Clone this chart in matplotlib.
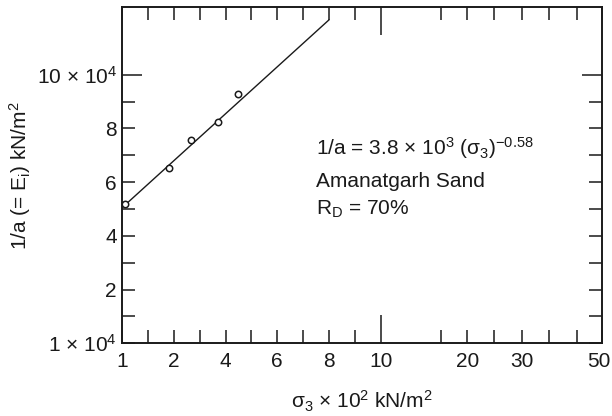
import numpy as np
import matplotlib
matplotlib.use('Agg')
import matplotlib.pyplot as plt
from matplotlib.ticker import FixedLocator, FixedFormatter
from matplotlib.transforms import ScaledTranslation

plt.rcParams['font.family'] = ['Liberation Sans', 'DejaVu Sans']
plt.rcParams['mathtext.fontset'] = 'custom'
plt.rcParams['mathtext.rm'] = 'Liberation Sans'
plt.rcParams['mathtext.it'] = 'Liberation Sans:italic'
plt.rcParams['mathtext.bf'] = 'Liberation Sans:bold'

# measured data (sigma3 in 10^2 kN/m2, 1/a in 10^4 kN/m2)
sigma3 = [1.05, 1.91, 2.65, 3.72, 4.48]
inv_a = [5.17, 6.52, 7.57, 8.23, 9.27]

# fitted line end points
fit_x = [1.02, 8.0]
fit_y = [5.09, 12.04]

# the hand drawn axes of the original: value -> position along the axis
x_anchor_vals = [1, 2, 10, 20, 30, 50]
x_anchor_pos = [0, 2, 10, 13.36, 15.48, 18.58]
y_anchor_vals = [1, 2, 10, 20]
y_anchor_pos = [0, 2, 10, 20]

x_tick_pos = [0, 1, 2, 3, 4, 5, 6, 7, 8, 9, 10,
              12.32, 13.36, 14.4, 15.48, 16.53, 17.59, 18.58]
x_tick_labels = {1: '1', 2: '2', 4: '4', 6: '6', 8: '8', 10: '10',
                 20: '20', 30: '30', 50: '50'}
y_tick_pos = [0, 1, 2, 3, 4, 5, 6, 7, 8, 9, 10]
y_tick_labels = {1: r'1 × 10$^4$', 2: '2', 4: '4', 6: '6', 8: '8',
                 10: r'10 × 10$^4$'}

FS = 15
INK = '#1a1a1a'


def x_fwd(v):
    return np.interp(v, x_anchor_vals, x_anchor_pos)


def x_inv(p):
    return np.interp(p, x_anchor_pos, x_anchor_vals)


def y_fwd(v):
    return np.interp(v, y_anchor_vals, y_anchor_pos)


def y_inv(p):
    return np.interp(p, y_anchor_pos, y_anchor_vals)


def pick(labels, vals):
    out = []
    for v in vals:
        key = int(round(v)) if abs(v - round(v)) < 1e-3 else None
        out.append(labels.get(key, ''))
    return out


fig = plt.figure(figsize=(6.12, 4.16), dpi=100)
ax = fig.add_axes([0.1998, 0.1748, 0.7843, 0.8077])
ax.set_xscale('function', functions=(x_fwd, x_inv))
ax.set_yscale('function', functions=(y_fwd, y_inv))

ax.plot(fit_x, fit_y, color=INK, linewidth=1.0)
ax.plot(sigma3, inv_a, linestyle='none', marker='o', markersize=4.6,
        markerfacecolor='white', markeredgecolor=INK, markeredgewidth=1.1)

ax.set_xlim(1, 50)
ax.set_ylim(1, y_inv(12.51))

xt = [round(float(x_inv(p)), 4) for p in x_tick_pos]
yt = [round(float(y_inv(p)), 4) for p in y_tick_pos]
ax.xaxis.set_major_locator(FixedLocator(xt))
ax.xaxis.set_major_formatter(FixedFormatter(pick(x_tick_labels, xt)))
ax.yaxis.set_major_locator(FixedLocator(yt))
ax.yaxis.set_major_formatter(FixedFormatter(pick(y_tick_labels, yt)))
ax.minorticks_off()

ax.tick_params(axis='both', which='major', direction='in', top=True, right=True,
               width=1.1, color=INK, labelsize=FS, labelcolor=INK)
ax.tick_params(axis='x', length=9.4, pad=6)
ax.tick_params(axis='y', length=9.1, pad=4)

for tick, v in zip(ax.xaxis.get_major_ticks(), xt):
    if abs(v - 10) < 1e-3:
        tick.tick1line.set_markersize(20)
        tick.tick2line.set_markersize(20)
    if abs(v - 50) < 1e-3:
        # keep the last label inside the picture, as in the original
        lab = tick.label1
        lab.set_transform(lab.get_transform() +
                          ScaledTranslation(-3 / 100, 0, fig.dpi_scale_trans))
for tick, v in zip(ax.yaxis.get_major_ticks(), yt):
    if abs(v - 10) < 1e-3:
        tick.tick1line.set_markersize(14.4)
        tick.tick2line.set_markersize(14.4)

for s in ax.spines.values():
    s.set_linewidth(1.4)
    s.set_color(INK)

ax.set_xlabel(r'σ$_3$ × 10$^2$ kN/m$^2$', fontsize=FS, color=INK)
ax.set_ylabel(r'1/a (= E$_\mathrm{i}$) kN/m$^2$', fontsize=FS, color=INK)
ax.xaxis.set_label_coords(0.5, -0.136)
ax.yaxis.set_label_coords(-0.186, 0.5)

tx = 0.4035
ax.text(tx, 0.560, r'1/a = 3.8 × 10$^3$ (σ$_3$)$^{-0.58}$', transform=ax.transAxes,
        fontsize=FS, va='baseline', color=INK)
ax.text(tx, 0.466, 'Amanatgarh Sand', transform=ax.transAxes,
        fontsize=FS, va='baseline', color=INK)
ax.text(tx, 0.384, r'R$_\mathrm{D}$ = 70%', transform=ax.transAxes,
        fontsize=FS, va='baseline', color=INK)

fig.savefig('out.png', dpi=100)
